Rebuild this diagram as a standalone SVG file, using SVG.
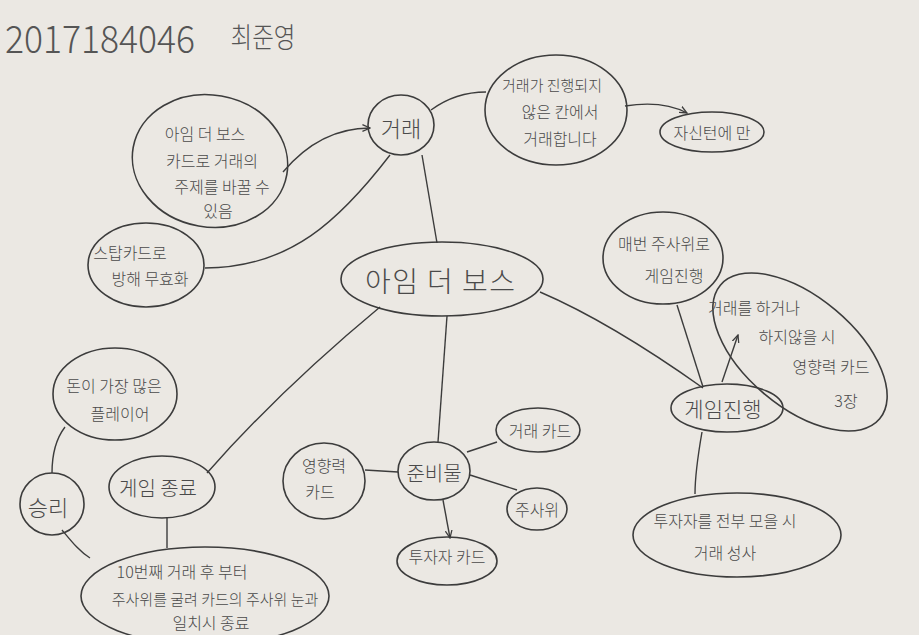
<svg xmlns="http://www.w3.org/2000/svg" width="919" height="635" viewBox="0 0 919 635">
<defs>
<style>
.n{fill:none;stroke:#3c3c3c;stroke-width:1.6}
.c{fill:none;stroke:#3c3c3c;stroke-width:1.4}
text{font-family:"Noto Sans CJK KR","Noto Sans",sans-serif;font-weight:300;fill:#4a4a4a;text-anchor:middle;dominant-baseline:central}
.s{font-size:16px}
.m{font-size:20px}
</style>
<marker id="a" viewBox="0 0 10 10" refX="9" refY="5" markerWidth="6" markerHeight="6" orient="auto-start-reverse"><path d="M0,1 L9,5 L0,9" fill="none" stroke="#3c3c3c" stroke-width="1.5"/></marker>
</defs>
<rect width="919" height="635" fill="#ebe8e3"/>
<g id="title">
<text x="100" y="36" style="font-family:'Noto Sans CJK KR','Noto Sans',sans-serif;font-size:38px;font-weight:300;fill:#555" textLength="190" lengthAdjust="spacingAndGlyphs">2017184046</text>
<text x="263" y="36" style="font-size:28px;fill:#555" textLength="65" lengthAdjust="spacingAndGlyphs">최준영</text>
</g>
<g id="connectors">
<path class="c" d="M283,172 C310,140 340,128 370,128" marker-end="url(#a)"/>
<path class="c" d="M390,155 C340,220 290,268 205,268"/>
<path class="c" d="M422,155 L437,243"/>
<path class="c" d="M431,110 C450,96 468,92 486,92"/>
<path class="c" d="M625,106 C650,102 670,104 687,113" marker-end="url(#a)"/>
<path class="c" d="M540,292 Q610,322 703,388"/>
<path class="c" d="M677,305 L703,387"/>
<path class="c" d="M722,382 L738,335" marker-end="url(#a)"/>
<path class="c" d="M702,432 C698,455 695,475 695,494"/>
<path class="c" d="M447,316 L438,442"/>
<path class="c" d="M467,452 L497,442"/>
<path class="c" d="M470,475 L517,490"/>
<path class="c" d="M443,500 L450,538" marker-end="url(#a)"/>
<path class="c" d="M398,472 L365,470"/>
<path class="c" d="M380,307 Q280,390 207,473"/>
<path class="c" d="M65,427 C55,440 52,455 52,473"/>
<path class="c" d="M62,530 C72,542 80,552 90,558"/>
<path class="c" d="M167,518 L167,548"/>
</g>
<g id="n-center"><ellipse class="n" cx="442" cy="279" rx="101" ry="37"/><text x="440" y="280" style="font-size:28px" textLength="150" lengthAdjust="spacing">아임 더 보스</text></g>
<g id="n-trade"><ellipse class="n" cx="401" cy="125" rx="33" ry="30"/><text x="401" y="127" style="font-size:22px">거래</text></g>
<g id="n-bosscard"><ellipse class="n" cx="210" cy="161" rx="78" ry="66" transform="rotate(10 210 161)"/>
<text class="s" x="205" y="133">아임 더 보스</text><text class="s" x="212" y="160">카드로 거래의</text><text class="s" x="222" y="186">주제를 바꿀 수</text><text class="s" x="218" y="210">있음</text></g>
<g id="n-notrade"><ellipse class="n" cx="556" cy="110" rx="71" ry="55"/>
<text class="s" x="552" y="84" style="font-size:15px">거래가 진행되지</text><text class="s" x="560" y="111">않은 칸에서</text><text class="s" x="560" y="138">거래합니다</text></g>
<g id="n-myturn"><ellipse class="n" cx="712" cy="132" rx="52" ry="20"/><text class="s" x="712" y="132">자신턴에 만</text></g>
<g id="n-stop"><ellipse class="n" cx="146" cy="265" rx="58" ry="42"/>
<text class="s" x="130" y="252">스탑카드로</text><text class="s" x="150" y="278">방해 무효화</text></g>
<g id="n-dice-turn"><ellipse class="n" cx="663" cy="258" rx="60" ry="46"/>
<text class="s" x="664" y="243">매번 주사위로</text><text class="s" x="674" y="275">게임진행</text></g>
<g id="n-influence-rule"><ellipse class="n" cx="800" cy="352" rx="104" ry="55" transform="rotate(40 800 352)"/>
<text class="s" x="754" y="307">거래를 하거나</text><text class="s" x="797" y="336">하지않을 시</text><text class="s" x="831" y="366">영향력 카드</text><text class="s" x="846" y="400">3장</text></g>
<g id="n-progress"><ellipse class="n" cx="727" cy="408" rx="56" ry="24"/><text x="723" y="408" style="font-size:21px">게임진행</text></g>
<g id="n-deal"><ellipse class="n" cx="737" cy="535" rx="104" ry="42"/>
<text class="s" x="725" y="520">투자자를 전부 모을 시</text><text class="s" x="725" y="552">거래 성사</text></g>
<g id="n-prep"><ellipse class="n" cx="434" cy="471" rx="36" ry="29"/><text class="m" x="434" y="472">준비물</text></g>
<g id="n-tradecard"><ellipse class="n" cx="538" cy="430" rx="42" ry="22"/><text class="s" x="540" y="430">거래 카드</text></g>
<g id="n-dice"><ellipse class="n" cx="537" cy="509" rx="30" ry="21"/><text class="s" x="537" y="509">주사위</text></g>
<g id="n-investor"><ellipse class="n" cx="447" cy="561" rx="50" ry="24"/><text class="s" x="447" y="556">투자자 카드</text></g>
<g id="n-influence"><ellipse class="n" cx="324" cy="481" rx="41" ry="38"/>
<text class="s" x="324" y="465">영향력</text><text class="s" x="320" y="491">카드</text></g>
<g id="n-rich"><ellipse class="n" cx="115" cy="394" rx="62" ry="46"/>
<text class="s" x="114" y="385">돈이 가장 많은</text><text class="s" x="120" y="413">플레이어</text></g>
<g id="n-end"><ellipse class="n" cx="162" cy="487" rx="53" ry="31"/><text class="m" x="158" y="487">게임 종료</text></g>
<g id="n-win"><ellipse class="n" cx="52" cy="504" rx="32" ry="31"/><text x="48" y="506" style="font-size:22px">승리</text></g>
<g id="n-endcond"><ellipse class="n" cx="205" cy="596" rx="124" ry="49"/>
<text class="s" x="182" y="571">10번째 거래 후 부터</text><text class="s" x="215" y="598" style="font-size:15px">주사위를 굴려 카드의 주사위 눈과</text><text class="s" x="211" y="622">일치시 종료</text></g>
</svg>
